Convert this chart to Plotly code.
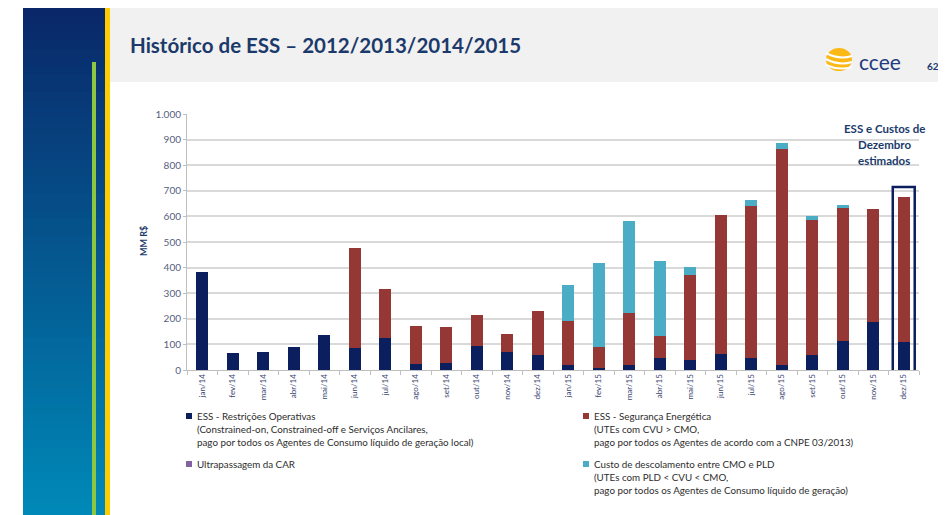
import plotly.graph_objects as go

# page offset of the browser body (8 px) is compensated by shifting coordinates
OFF = 8
W, H = 946 - OFF, 515 - OFF

months = ["jan/14", "fev/14", "mar/14", "abr/14", "mai/14", "jun/14", "jul/14", "ago/14",
          "set/14", "out/14", "nov/14", "dez/14", "jan/15", "fev/15", "mar/15", "abr/15",
          "mai/15", "jun/15", "jul/15", "ago/15", "set/15", "out/15", "nov/15", "dez/15"]
restricoes = [383, 65, 70, 88, 138, 87, 126, 23, 27, 95, 72, 60,
              18, 9, 18, 48, 40, 61, 48, 20, 57, 115, 189, 111]
seguranca = [0, 0, 0, 0, 0, 391, 189, 149, 142, 118, 67, 170,
             175, 82, 203, 86, 331, 544, 594, 843, 530, 519, 439, 566]
descolamento = [0, 0, 0, 0, 0, 0, 0, 0, 0, 0, 0, 0,
                140, 327, 360, 293, 30, 0, 22, 22, 16, 10, 0, 0]
car = [0] * 24

y_tickvals = [0, 100, 200, 300, 400, 500, 600, 700, 800, 900, 1000]
y_ticktext = ["0", "100", "200", "300", "400", "500", "600", "700", "800", "900", "1.000"]

NAVY = "#0B1F5E"
RED = "#953735"
CYAN = "#4BACC6"
PURPLE = "#8064A2"
TXT = "#1B3A6B"

def px(x):
    return (x - OFF) / W

def py(y):
    return 1 - (y - OFF) / H

fig = go.Figure()
fig.add_trace(go.Bar(x=months, y=restricoes, marker_color=NAVY, name="ESS - Restrições Operativas", showlegend=False))
fig.add_trace(go.Bar(x=months, y=seguranca, marker_color=RED, name="ESS - Segurança Energética", showlegend=False))
fig.add_trace(go.Bar(x=months, y=car, marker_color=PURPLE, name="Ultrapassagem da CAR", showlegend=False))
fig.add_trace(go.Bar(x=months, y=descolamento, marker_color=CYAN, name="Custo de descolamento entre CMO e PLD", showlegend=False))
fig.update_traces(marker_line_width=0, width=0.4)

shapes = []
# left gradient panel
top_c = (10, 40, 105)
bot_c = (0, 137, 184)
n = 60
y0px, y1px = 7, 515
for i in range(n):
    t = i / (n - 1)
    c = tuple(int(top_c[k] + (bot_c[k] - top_c[k]) * t) for k in range(3))
    ya = y0px + (y1px - y0px) * i / n
    shapes.append(dict(type="rect", xref="paper", yref="paper", x0=px(23), x1=px(105),
                       y0=py(y1px + 2), y1=py(ya), fillcolor="rgb(%d,%d,%d)" % c, line_width=0, layer="below"))
# green line
shapes.append(dict(type="rect", xref="paper", yref="paper", x0=px(92), x1=px(96), y0=py(517), y1=py(62),
                   fillcolor="#8DC63F", line_width=0, layer="below"))
# yellow stripe
shapes.append(dict(type="rect", xref="paper", yref="paper", x0=px(105), x1=px(110), y0=py(517), y1=py(7),
                   fillcolor="#FFCC00", line_width=0, layer="below"))
# header
shapes.append(dict(type="rect", xref="paper", yref="paper", x0=px(110), x1=1, y0=py(82), y1=py(7),
                   fillcolor="#F1F1F1", line_width=0, layer="below"))
# sun logo
shapes.append(dict(type="circle", xref="paper", yref="paper", x0=px(826), x1=px(852), y0=py(71), y1=py(48),
                   fillcolor="#FBB917", line_width=0))
for (a, b) in [(53, 56), (59, 62), (65, 67)]:
    shapes.append(dict(type="path", xref="paper", yref="paper",
                       path="M %f,%f Q %f,%f %f,%f" % (px(826), py(a), px(839), py(b + 4), px(852), py(b)),
                       line=dict(color="white", width=2)))
# box around december
shapes.append(dict(type="rect", xref="x", yref="y", x0=22.64, x1=23.36, y0=-8, y1=715,
                   line=dict(color=NAVY, width=2.5), fillcolor="rgba(0,0,0,0)"))

# legend squares
leg_items = [
    (186, 416, NAVY, ["ESS - Restrições Operativas",
                      "(Constrained-on, Constrained-off e Serviços Ancilares,",
                      "pago por todos os Agentes de Consumo líquido de geração local)"]),
    (583, 416, RED, ["ESS - Segurança Energética",
                     "(UTEs com CVU > CMO,",
                     "pago por todos os Agentes de acordo com a CNPE 03/2013)"]),
    (186, 464, PURPLE, ["Ultrapassagem da CAR"]),
    (583, 464, CYAN, ["Custo de descolamento entre CMO e PLD",
                      "(UTEs com PLD < CVU < CMO,",
                      "pago por todos os Agentes de Consumo líquido de geração)"]),
]
annotations = []
for (lx, ly, col, lines) in leg_items:
    shapes.append(dict(type="rect", xref="paper", yref="paper", x0=px(lx), x1=px(lx + 6),
                       y0=py(ly + 3), y1=py(ly - 3), fillcolor=col, line_width=0))
    for j, ln in enumerate(lines):
        annotations.append(dict(x=px(lx + 9), y=py(ly + 13 * j), xref="paper", yref="paper",
                                text=ln, showarrow=False, xanchor="left", yanchor="middle",
                                font=dict(family="Lato", size=9.8, color="#2E2E2E")))

# title
annotations.append(dict(x=px(128), y=py(45), xref="paper", yref="paper",
                        text="<b>Histórico de ESS – 2012/2013/2014/2015</b>", showarrow=False,
                        xanchor="left", yanchor="middle", font=dict(family="Lato", size=20.5, color=TXT)))
annotations.append(dict(x=px(857), y=py(62), xref="paper", yref="paper", text="ccee", showarrow=False,
                        xanchor="left", yanchor="middle", font=dict(family="Lato", size=21, color="#233A7E")))
annotations.append(dict(x=px(933), y=py(66), xref="paper", yref="paper", text="<b>62</b>", showarrow=False,
                        xanchor="center", yanchor="middle", font=dict(family="Lato", size=10, color=TXT)))
# y title
annotations.append(dict(x=px(143), y=py(241), xref="paper", yref="paper", text="<b>MM R$</b>",
                        showarrow=False, textangle=-90, xanchor="center", yanchor="middle",
                        font=dict(family="Lato", size=9, color=TXT)))
# december note
for j, ln in enumerate(["ESS e Custos de", "Dezembro", "estimados"]):
    annotations.append(dict(x=px(884), y=py(128 + 16 * j), xref="paper", yref="paper",
                            text="<b>%s</b>" % ln, showarrow=False, xanchor="center", yanchor="middle",
                            font=dict(family="Lato", size=11.5, color=TXT)))

fig.update_layout(
    template="none",
    width=W, height=H, autosize=False,
    margin=dict(l=0, r=0, t=0, b=0, pad=0),
    paper_bgcolor="white", plot_bgcolor="white",
    barmode="stack", bargap=0.6,
    shapes=shapes, annotations=annotations,
    font=dict(family="Lato"),
    xaxis=dict(domain=[px(187), px(919)], type="category", tickangle=-90, automargin=False,
               tickfont=dict(family="Lato", size=8, color="#3B4670"),
               showline=True, linecolor="#BFBFBF", linewidth=1,
               ticks="outside", tickson="boundaries", ticklen=4, tickcolor="#BFBFBF",
               showgrid=False, range=[-0.5, 23.5]),
    yaxis=dict(domain=[py(370), py(114)], range=[0, 1000], tickvals=y_tickvals, ticktext=y_ticktext,
               automargin=False,
               tickfont=dict(family="Lato", size=10, color="#56607F"),
               showline=True, linecolor="#BFBFBF", linewidth=1,
               ticks="outside", ticklen=3, tickcolor="#BFBFBF",
               showgrid=True, gridcolor="#D9D9D9", gridwidth=1.5, zeroline=False),
)

fig.write_html("out.html")
